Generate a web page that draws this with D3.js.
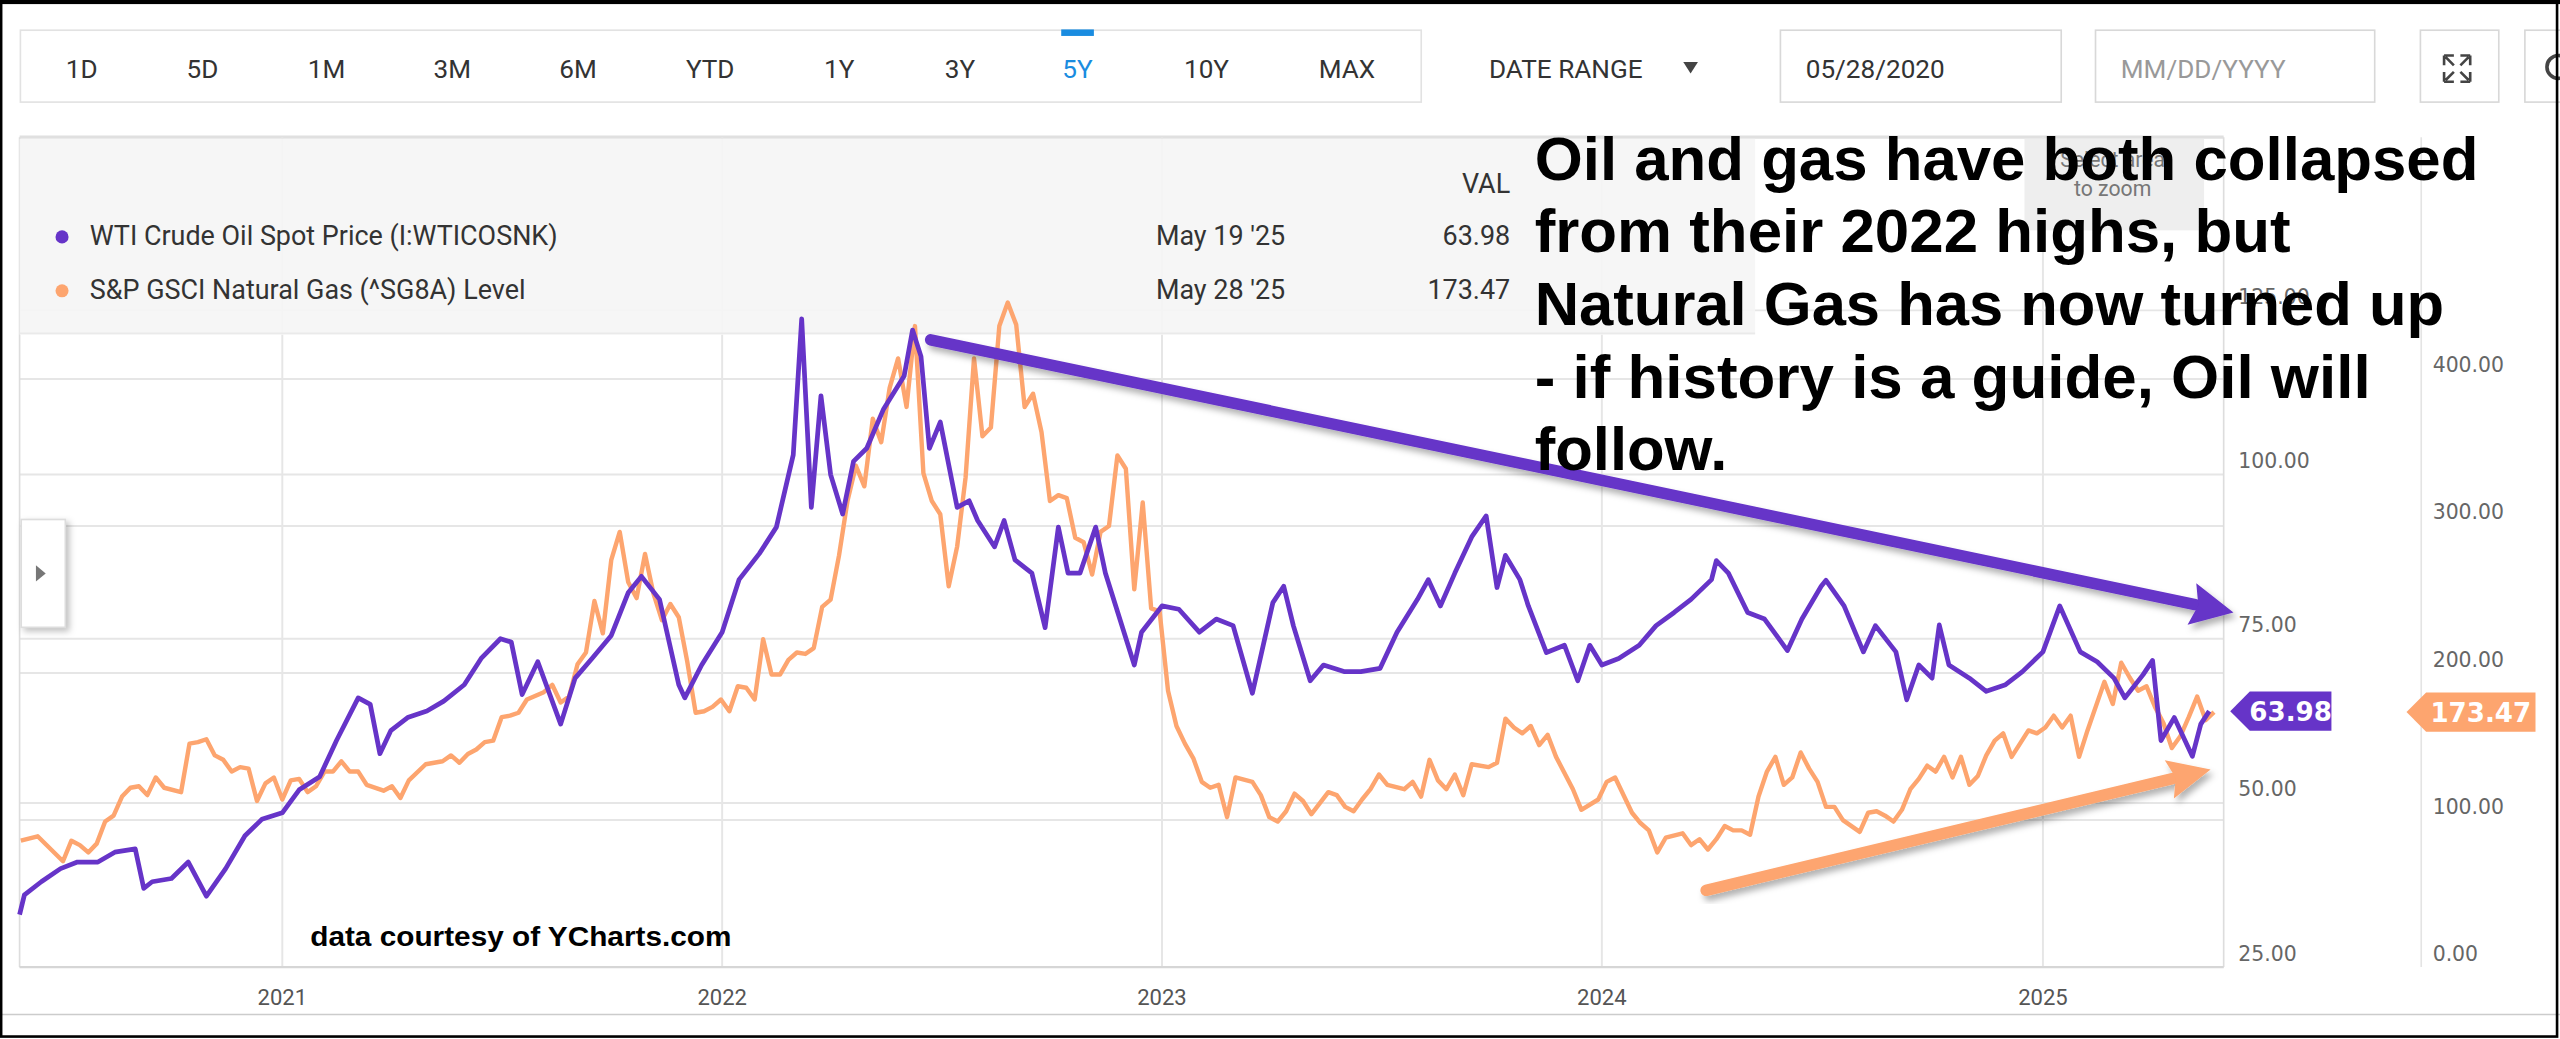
<!DOCTYPE html>
<html><head><meta charset="utf-8">
<script src="https://cdn.jsdelivr.net/npm/d3@7"></script>
<style>html,body{margin:0;padding:0;background:#fff;overflow:hidden}svg{display:block}</style>
</head><body>
<svg id="c" width="2560" height="1039" viewBox="0 0 1568 636" preserveAspectRatio="none"></svg>
<script>
const rangeButtons = ["1D","5D","1M","3M","6M","YTD","1Y","3Y","5Y","10Y","MAX"];
const activeButton = "5Y";
const oilName = "WTI Crude Oil Spot Price (I:WTICOSNK)";
const gasName = "S&P GSCI Natural Gas (^SG8A) Level";
const oilLastDate = "May 19 '25", gasLastDate = "May 28 '25";
const oilDates = ["2020-05-28","2020-06-01","2020-06-15","2020-07-01","2020-07-15","2020-08-01","2020-08-15","2020-09-01","2020-09-08","2020-09-15","2020-10-01","2020-10-15","2020-10-30","2020-11-15","2020-12-01","2020-12-15",
"2021-01-01","2021-01-15","2021-02-01","2021-02-15","2021-03-05","2021-03-15","2021-03-23","2021-04-01","2021-04-15","2021-05-01","2021-05-15","2021-06-01","2021-06-15","2021-07-01","2021-07-10","2021-07-19","2021-08-01","2021-08-20","2021-09-01","2021-09-15","2021-10-01","2021-10-15","2021-10-26","2021-11-10","2021-11-26","2021-12-01","2021-12-15",
"2022-01-01","2022-01-15","2022-02-01","2022-02-15","2022-03-01","2022-03-08","2022-03-16","2022-03-24","2022-04-01","2022-04-11","2022-04-20","2022-05-01","2022-05-15","2022-06-01","2022-06-08","2022-06-15","2022-06-22","2022-07-01","2022-07-15","2022-07-25","2022-08-01","2022-08-15","2022-08-23","2022-09-01","2022-09-15","2022-09-26","2022-10-07","2022-10-15","2022-10-25","2022-11-07","2022-11-15","2022-12-09","2022-12-15",
"2023-01-01","2023-01-15","2023-02-01","2023-02-15","2023-03-01","2023-03-17","2023-04-03","2023-04-12","2023-04-20","2023-05-04","2023-05-15","2023-06-01","2023-06-15","2023-07-01","2023-07-15","2023-08-01","2023-08-10","2023-08-20","2023-09-01","2023-09-15","2023-09-27","2023-10-06","2023-10-13","2023-10-25","2023-11-01","2023-11-16","2023-12-01","2023-12-12","2023-12-22",
"2024-01-01","2024-01-15","2024-02-01","2024-02-15","2024-03-01","2024-03-15","2024-04-01","2024-04-05","2024-04-15","2024-05-01","2024-05-15","2024-06-03","2024-06-15","2024-07-01","2024-07-05","2024-07-20","2024-08-05","2024-08-15","2024-09-01","2024-09-10","2024-09-20","2024-10-01","2024-10-07","2024-10-15","2024-11-01","2024-11-15","2024-12-01","2024-12-15",
"2025-01-01","2025-01-15","2025-02-01","2025-02-15","2025-03-01","2025-03-10","2025-03-25","2025-04-02","2025-04-09","2025-04-20","2025-05-05","2025-05-12","2025-05-19"];
const oilValues = [33,36,38,40,41,41,42.5,43,37,38,38.5,41,35.8,40,45,47.5,
48.5,52,54,59.5,66,65,57.5,61,63,64,65.5,68,72,75,74.5,66.5,71.5,62,69,72,75.5,82,84.5,81,68,66,71,
76,84,88,92,103,123.7,95,112,100,94,102,104,110,115,122,118,104,108,95,96,93,89,93,87,85,76.7,92,85,85,92,85,71,76,
80,79.5,76,78,77,66.7,80.5,83,77,68.6,71,70,70,70.5,76,81,84,80,85,90.5,93.7,82.8,87.7,84,80,72.9,74,68.6,74,
71,72,74,77,79,81,84,86.9,85,79,78,73.2,78,83,83.9,80,73,77,73,65.7,71,69,77.1,71,69,67,68,70,
73,80,73,71.5,69,66,69.5,71.7,59.5,63,57.1,62,63.98];
const gasStart = "2020-05-29";
const gasWeek = [0,2,5,6,7,8,9,10,11,12,13,14,15,16,17,19,20,21,22,23,24,25,26,27,28,29,30,31,32,33,34,35,36,37,38,39,40,41,43,44,45,46,48,50,51,52,53,54,55,56,57,58,59,60,62,63,64,65,66,67,68,69,70,71,72,73,74,75,76,77,78,79,80,81,82,83,84,85,86,87,
88,89,90,91,92,93,94,95,96,97,98,99,100,101,102,103,104,105,106,107,108,109,110,111,112,113,114,115,116,117,118,119,120,121,122,123,124,125,126,127,128,129,130,131,132,133,134,135,136,137,138,139,140,141,142,143,144,146,147,148,149,150,151,152,153,155,156,157,158,159,160,161,162,164,165,166,167,168,169,170,171,172,174,175,
176,177,178,179,180,181,182,184,185,187,188,189,191,192,193,194,195,197,198,199,200,201,202,203,204,205,206,207,208,209,210,211,212,213,214,215,216,218,219,220,221,222,223,224,225,226,227,228,229,230,231,232,233,234,235,236,237,238,239,240,241,242,243,244,245,247,248,249,250,251,252,253,254,255,256,257,258,259,260];
const gasValues = [86,89,72,86,83,78,84,99,103,116,122,123,117,129,122,119,152,153,155,144,141,133,136,135,113,125,129,114,127,128,119,123,133,133,140,133,133,124,120,123,115,127,138,140,144,139,145,148,153,154,170,171,173,182,187,192,180,184,206,214,249,227,277,296,262,251,281,254,236,247,238,208,173,174,177,182,174,191,190,182,
223,199,199,209,214,213,217,245,250,280,317,341,327,373,357,394,414,381,436,336,317,308,259,286,333,414,361,367,436,452,437,381,390,364,317,321,319,292,289,267,296,300,348,339,257,316,244,242,188,164,152,142,126,122,124,102,129,126,117,102,99,106,118,113,104,119,117,109,106,114,121,131,124,121,126,116,141,127,121,131,117,138,136,139,
169,163,159,164,151,158,143,121,107,114,126,129,105,98,93,78,88,91,83,87,80,87,96,93,93,90,116,133,143,124,129,146,135,126,109,109,100,92,105,106,103,99,107,121,128,137,133,143,129,143,124,130,144,154,159,143,152,161,159,163,171,163,171,143,161,194,179,207,197,188,191,177,166,149,157,170,184,168,173.47];
const oilTicks = [25,50,75,100,125];
const gasTicks = [0,100,200,300,400];
const yearTicks = [2021,2022,2023,2024,2025];
const noteLines = ["Oil and gas have both collapsed","from their 2022 highs, but","Natural Gas has now turned up","- if history is a guide, Oil will","follow."];
const credit = "data courtesy of YCharts.com";

const PURPLE="#6634c8", ORANGE="#fda56f";
const svg=d3.select("#c");
const P={l:12,r:1362,t:84,b:592};
const parse=d3.utcParse("%Y-%m-%d");
const x=d3.scaleUtc().domain([parse("2020-05-28"),parse("2025-05-31")]).range([P.l,P.r]);
const yO=d3.scaleLinear().domain([25,125]).range([592,190]);
const yG=d3.scaleLinear().domain([0,400]).range([592,232]);

svg.append("rect").attr("x",0).attr("y",0).attr("width",1568).attr("height",636).attr("fill","#fff");
svg.append("rect").attr("x",12.5).attr("y",18.5).attr("width",858).attr("height",44).attr("fill","#fff").attr("stroke","#e2e2e2");
const bx=[50,124,200,277,354,435,514,588,660,739,825];
rangeButtons.forEach((b,i)=>{
  svg.append("text").attr("x",bx[i]).attr("y",48).attr("text-anchor","middle").attr("font-family","Roboto").attr("font-size",16)
   .attr("fill",b===activeButton?"#1a8ce0":"#333").text(b);
  if(b===activeButton) svg.append("rect").attr("x",bx[i]-10).attr("y",18).attr("width",20).attr("height",4).attr("fill","#1a8ce0");
});
svg.append("text").attr("x",912).attr("y",48).attr("font-family","Roboto").attr("font-size",16).attr("fill","#333").text("DATE RANGE");
svg.append("path").attr("d","M1031,38 L1040,38 L1035.5,45 Z").attr("fill","#444");
[[1090,172,"05/28/2020","#333"],[1283,171,"MM/DD/YYYY","#999"]].forEach(d=>{
  svg.append("rect").attr("x",d[0]+.5).attr("y",18.5).attr("width",d[1]).attr("height",44).attr("fill","#fff").attr("stroke","#d8d8d8");
  svg.append("text").attr("x",d[0]+16).attr("y",48).attr("font-family","Roboto").attr("font-size",16).attr("fill",d[3]).text(d[2]);
});
svg.append("rect").attr("x",1482.5).attr("y",18.5).attr("width",48).attr("height",44).attr("fill","#fff").attr("stroke","#d8d8d8");
svg.append("path").attr("d","M1497,34 h6 M1497,34 v6 M1513,34 h-6 M1513,34 v6 M1497,50 h6 M1497,50 v-6 M1513,50 h-6 M1513,50 v-6 M1498,35 l5,5 M1512,35 l-5,5 M1498,49 l5,-5 M1512,49 l-5,-5").attr("stroke","#444").attr("stroke-width",1.6).attr("fill","none");
svg.append("rect").attr("x",1546.5).attr("y",18.5).attr("width",30).attr("height",44).attr("fill","#fff").attr("stroke","#d8d8d8");
svg.append("circle").attr("cx",1567).attr("cy",41).attr("r",7).attr("fill","none").attr("stroke","#444").attr("stroke-width",2.2);

const g=svg.append("g");
g.append("line").attr("x1",P.l).attr("x2",P.r).attr("y1",P.t).attr("y2",P.t).attr("stroke","#e0e0e0").attr("stroke-width",2);
yearTicks.forEach(yr=>{const xx=x(parse(yr+"-01-01"));
  g.append("line").attr("x1",xx).attr("x2",xx).attr("y1",P.t).attr("y2",P.b).attr("stroke","#e6e6e6").attr("stroke-width",1.2);
  g.append("text").attr("x",xx).attr("y",615).attr("text-anchor","middle").attr("font-family","Roboto").attr("font-size",13.5).attr("fill","#555").text(yr);});
oilTicks.forEach(t=>{g.append("line").attr("x1",P.l).attr("x2",P.r).attr("y1",yO(t)).attr("y2",yO(t)).attr("stroke","#e6e6e6").attr("stroke-width",1.2);
  g.append("text").attr("x",1371).attr("y",yO(t)-4).attr("font-family","DejaVu Sans").attr("font-size",12.5).attr("fill","#666").text(t.toFixed(2));});
gasTicks.forEach(t=>{ if(t>0) g.append("line").attr("x1",P.l).attr("x2",P.r).attr("y1",yG(t)).attr("y2",yG(t)).attr("stroke","#e6e6e6").attr("stroke-width",1.2);
  g.append("text").attr("x",1490).attr("y",yG(t)-4).attr("font-family","DejaVu Sans").attr("font-size",12.5).attr("fill","#666").text(t.toFixed(2));});
g.append("line").attr("x1",P.l).attr("x2",P.l).attr("y1",P.t).attr("y2",P.b).attr("stroke","#ddd");
g.append("line").attr("x1",P.r).attr("x2",P.r).attr("y1",P.t).attr("y2",P.b).attr("stroke","#ddd");
g.append("line").attr("x1",1483).attr("x2",1483).attr("y1",P.t).attr("y2",P.b).attr("stroke","#e4e4e4");
g.append("line").attr("x1",P.l).attr("x2",P.r).attr("y1",P.b).attr("y2",P.b).attr("stroke","#d6d6d6").attr("stroke-width",1.5);

svg.append("rect").attr("x",P.l).attr("y",P.t+1).attr("width",1063).attr("height",120).attr("fill","#f5f5f5").attr("opacity",0.92);
svg.append("rect").attr("x",1240).attr("y",P.t+1).attr("width",110).attr("height",56).attr("fill","#eeeeee");
svg.append("text").attr("x",1294).attr("y",102).attr("text-anchor","middle").attr("font-family","Roboto").attr("font-size",13).attr("fill","#777").text("Select area");
svg.append("text").attr("x",1294).attr("y",120).attr("text-anchor","middle").attr("font-family","Roboto").attr("font-size",13).attr("fill","#777").text("to zoom");
svg.append("text").attr("x",925).attr("y",118).attr("text-anchor","end").attr("font-family","Roboto").attr("font-size",16.5).attr("fill","#333").text("VAL");
[[oilName,oilLastDate,oilValues[oilValues.length-1],PURPLE,150],[gasName,gasLastDate,gasValues[gasValues.length-1],ORANGE,183]].forEach(d=>{
  svg.append("circle").attr("cx",38).attr("cy",d[4]-5).attr("r",4).attr("fill",d[3]);
  svg.append("text").attr("x",55).attr("y",d[4]).attr("font-family","Roboto").attr("font-size",16.5).attr("fill","#333").text(d[0]);
  svg.append("text").attr("x",708).attr("y",d[4]).attr("font-family","Roboto").attr("font-size",16.5).attr("fill","#333").text(d[1]);
  svg.append("text").attr("x",925).attr("y",d[4]).attr("text-anchor","end").attr("font-family","Roboto").attr("font-size",16.5).attr("fill","#333").text(d[2].toFixed(2));
});
svg.append("line").attr("x1",P.l).attr("x2",1075).attr("y1",204).attr("y2",204).attr("stroke","#eaeaea");

const g0=parse(gasStart);
const gasData=gasWeek.map((w,i)=>({d:d3.utcDay.offset(g0,7*w),v:gasValues[i]}));
const oilData=oilDates.map((d,i)=>({d:parse(d),v:oilValues[i]}));
svg.append("path").datum(gasData).attr("fill","none").attr("stroke",ORANGE).attr("stroke-width",2.7).attr("stroke-linejoin","round")
  .attr("d",d3.line().x(d=>x(d.d)).y(d=>yG(d.v)));
svg.append("path").datum(oilData).attr("fill","none").attr("stroke",PURPLE).attr("stroke-width",2.9).attr("stroke-linejoin","round")
  .attr("d",d3.line().x(d=>x(d.d)).y(d=>yO(d.v)));

function tag(x0,w,yy,col,txt){
  svg.append("path").attr("d",`M${x0},${yy} L${x0+12},${yy-12} L${x0+w},${yy-12} L${x0+w},${yy+12} L${x0+12},${yy+12} Z`).attr("fill",col);
  svg.append("text").attr("x",x0+12+(w-12)/2).attr("y",yy+6).attr("text-anchor","middle").attr("font-family","DejaVu Sans").attr("font-weight","bold").attr("font-size",16).attr("fill","#fff").text(txt);
}
tag(1366,62,yO(oilValues[oilValues.length-1]),PURPLE,oilValues[oilValues.length-1].toFixed(2));
tag(1474,79,yG(gasValues[gasValues.length-1]),ORANGE,gasValues[gasValues.length-1].toFixed(2));

svg.append("rect").attr("x",13).attr("y",318).attr("width",27).attr("height",66).attr("fill","#fff").attr("stroke","#ddd").style("filter","drop-shadow(2px 2px 2px rgba(0,0,0,0.25))");
svg.append("path").attr("d","M22,346 L28,351 L22,356 Z").attr("fill","#777");

const defs=svg.append("defs");
defs.append("filter").attr("id","sh").html('<feDropShadow dx="2" dy="3" stdDeviation="2" flood-color="#000" flood-opacity="0.3"/>');
function arrow(x1,y1,x2,y2,w,hw,hl,col){
  const a=Math.atan2(y2-y1,x2-x1), c=Math.cos(a), s=Math.sin(a);
  const bx=x2-hl*c, by=y2-hl*s;
  const gg=svg.append("g").attr("filter","url(#sh)");
  gg.append("line").attr("x1",x1).attr("y1",y1).attr("x2",bx+2*c).attr("y2",by+2*s).attr("stroke",col).attr("stroke-width",w).attr("stroke-linecap","round");
  gg.append("path").attr("d",`M${x2},${y2} L${bx-hw*s},${by+hw*c} L${bx+4*c},${by+4*s} L${bx+hw*s},${by-hw*c} Z`).attr("fill",col);
}
arrow(570,208,1368,375,7,13,26,PURPLE);
arrow(1045,545,1354,471,7,12,26,ORANGE);

const nl=[578,463,557,512,118];
noteLines.forEach((t,i)=>svg.append("text").attr("x",940).attr("y",110+i*44.5).attr("font-family","Liberation Sans").attr("font-weight","bold")
  .attr("font-size",37).attr("fill","#000").attr("textLength",nl[i]).attr("lengthAdjust","spacingAndGlyphs").text(t));
svg.append("text").attr("x",190).attr("y",579).attr("font-family","Liberation Sans").attr("font-weight","bold").attr("font-size",17).attr("textLength",258).attr("lengthAdjust","spacingAndGlyphs").text(credit);

svg.append("line").attr("x1",0).attr("x2",1568).attr("y1",621).attr("y2",621).attr("stroke","#ccc");
svg.append("rect").attr("x",0.7).attr("y",1).attr("width",1565.5).attr("height",633.5).attr("fill","none").attr("stroke","#000").attr("stroke-width",1.6);
svg.append("rect").attr("x",0).attr("y",0).attr("width",1568).attr("height",2.5).attr("fill","#000");
</script></body></html>
